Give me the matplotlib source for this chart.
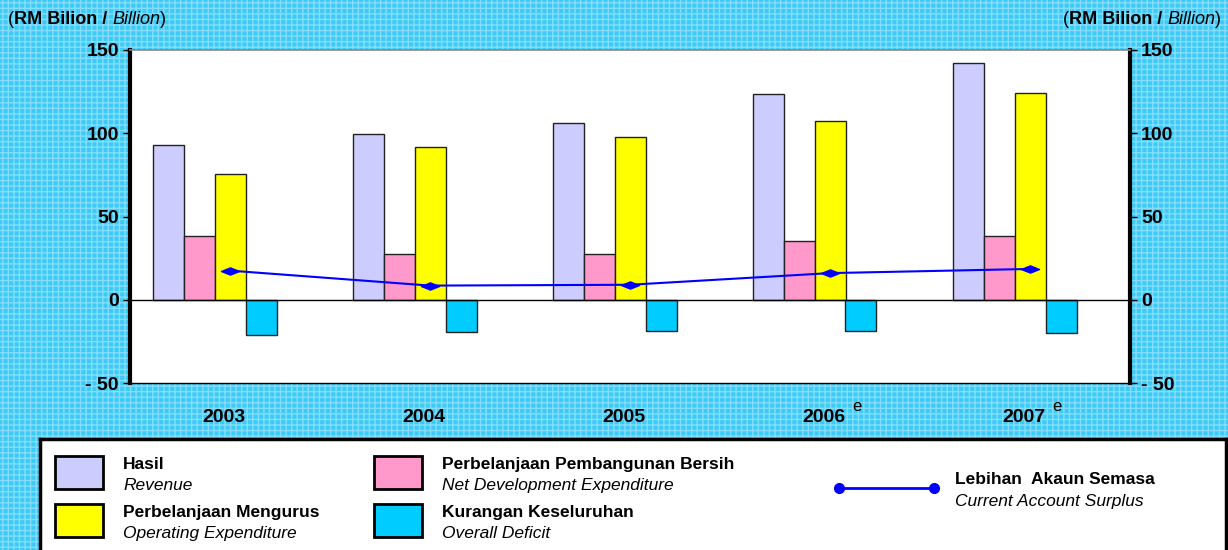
import numpy as np
import matplotlib.pyplot as plt
from matplotlib.patches import Rectangle
from matplotlib.path import Path
from matplotlib.transforms import ScaledTranslation

# data (RM billion)
years = ['2003', '2004', '2005', '2006', '2007']
estimate = [False, False, False, True, True]
revenue = [93.0, 99.5, 106.0, 123.5, 142.0]
dev_exp = [38.5, 27.5, 27.5, 35.5, 38.5]
oper_exp = [75.5, 91.5, 97.5, 107.5, 124.0]
deficit = [-21.0, -19.5, -18.5, -18.5, -20.0]
surplus = [17.5, 8.5, 9.0, 16.0, 18.5]

plt.rcParams['font.family'] = ['Liberation Sans', 'DejaVu Sans']

BG = '#3ccbf6'
fig = plt.figure(figsize=(12.28, 5.5), dpi=100, facecolor=BG)
# background texture
fig.patches.append(Rectangle((0, 0), 1, 1, transform=fig.transFigure, facecolor='none',
                             edgecolor='#86ddfb', hatch='+++', linewidth=0, zorder=-10))

ax = fig.add_axes([130 / 1228, 1 - 383 / 550, 1000 / 1228, 333 / 550])
ax.set_facecolor('white')

x = np.arange(len(years))
w = 0.155
ax.bar(x - 2 * w, revenue, w, color='#ccccff', edgecolor='#222222', linewidth=1)
ax.bar(x - w, dev_exp, w, color='#ff99cc', edgecolor='#222222', linewidth=1)
ax.bar(x, oper_exp, w, color='#ffff00', edgecolor='#222222', linewidth=1)
ax.bar(x + w, deficit, w, color='#00ccff', edgecolor='#222222', linewidth=1)

diamond = Path([(-1, 0), (0, 0.4), (1, 0), (0, -0.4), (-1, 0)],
               [Path.MOVETO, Path.LINETO, Path.LINETO, Path.LINETO, Path.CLOSEPOLY])
ax.plot(x, surplus, color='#0000ff', linewidth=1.5, marker=diamond, markersize=13, zorder=5)

ax.axhline(0, color='black', linewidth=1, zorder=1)

ax.set_xlim(-0.5, 4.5)
ax.set_ylim(-50, 150)
ax.set_yticks([150, 100, 50, 0, -50])
ax.set_yticklabels(['150', '100', '50', '0', '- 50'])
ax.tick_params(axis='y', direction='out', length=5, width=1, left=True, right=True,
               labelleft=True, labelright=True, labelsize=14, pad=3)
for t in ax.yaxis.get_major_ticks():
    t.label1.set_fontweight('bold')
    t.label2.set_fontweight('bold')
ax.set_xticks(x)
ax.set_xticklabels(years, fontsize=14, fontweight='bold')
ax.tick_params(axis='x', length=0, pad=19)
off = ScaledTranslation(-6 / 100, 0, fig.dpi_scale_trans)
for lab in ax.get_xticklabels():
    lab.set_transform(lab.get_transform() + off)
for i, e in enumerate(estimate):
    if e:
        ax.text(i + 0.135, -67, 'e', ha='center', va='baseline', fontsize=12)

ax.spines['left'].set_linewidth(3)
ax.spines['right'].set_linewidth(3)
ax.spines['top'].set_color('#888888')
ax.spines['top'].set_linewidth(1.2)
ax.spines['bottom'].set_linewidth(1)


# unit labels, built right to left from the closing bracket
def unit_label(x_end, y0):
    t4 = fig.text(x_end, y0, ')', fontsize=13, ha='right', va='baseline')
    t3 = plt.annotate('Billion', xy=(0, 0), xycoords=t4, fontsize=13, style='italic',
                      ha='right', va='bottom', annotation_clip=False)
    t2 = plt.annotate('RM Bilion / ', xy=(0, 0), xycoords=t3, fontsize=13, fontweight='bold',
                      ha='right', va='bottom', annotation_clip=False)
    plt.annotate('(', xy=(0, 0), xycoords=t2, fontsize=13, ha='right', va='bottom',
                 annotation_clip=False)

unit_label(166 / 1228, 1 - 24 / 550)
unit_label(1221 / 1228, 1 - 24 / 550)

# legend box drawn in pixel coordinates
lg = fig.add_axes([40 / 1228, 0, 1186 / 1228, 111 / 550])
lg.set_xlim(40, 1226)
lg.set_ylim(551, 440)
lg.set_facecolor('white')
lg.set_xticks([])
lg.set_yticks([])
for s in ['left', 'right', 'top']:
    lg.spines[s].set_linewidth(2.5)
lg.spines['bottom'].set_visible(False)

entries = [('#ccccff', 55, 457, 'Hasil', 'Revenue'),
           ('#ffff00', 55, 505, 'Perbelanjaan Mengurus', 'Operating Expenditure'),
           ('#ff99cc', 374, 457, 'Perbelanjaan Pembangunan Bersih', 'Net Development Expenditure'),
           ('#00ccff', 374, 505, 'Kurangan Keseluruhan', 'Overall Deficit')]
for col, px, py, t1, t2 in entries:
    lg.add_patch(Rectangle((px, py), 48, 33, facecolor=col, edgecolor='black', linewidth=2))
    lg.text(px + 68, py + 13, t1, fontsize=12.5, fontweight='bold', va='baseline')
    lg.text(px + 68, py + 34, t2, fontsize=12.5, style='italic', va='baseline')

lg.plot([839, 934], [489, 489], color='#0000ff', linewidth=2, marker='o', markersize=7)
lg.text(955, 485, 'Lebihan  Akaun Semasa', fontsize=12.5, fontweight='bold', va='baseline')
lg.text(955, 507, 'Current Account Surplus', fontsize=12.5, style='italic', va='baseline')

fig.savefig('out.png', dpi=100, facecolor=BG)
